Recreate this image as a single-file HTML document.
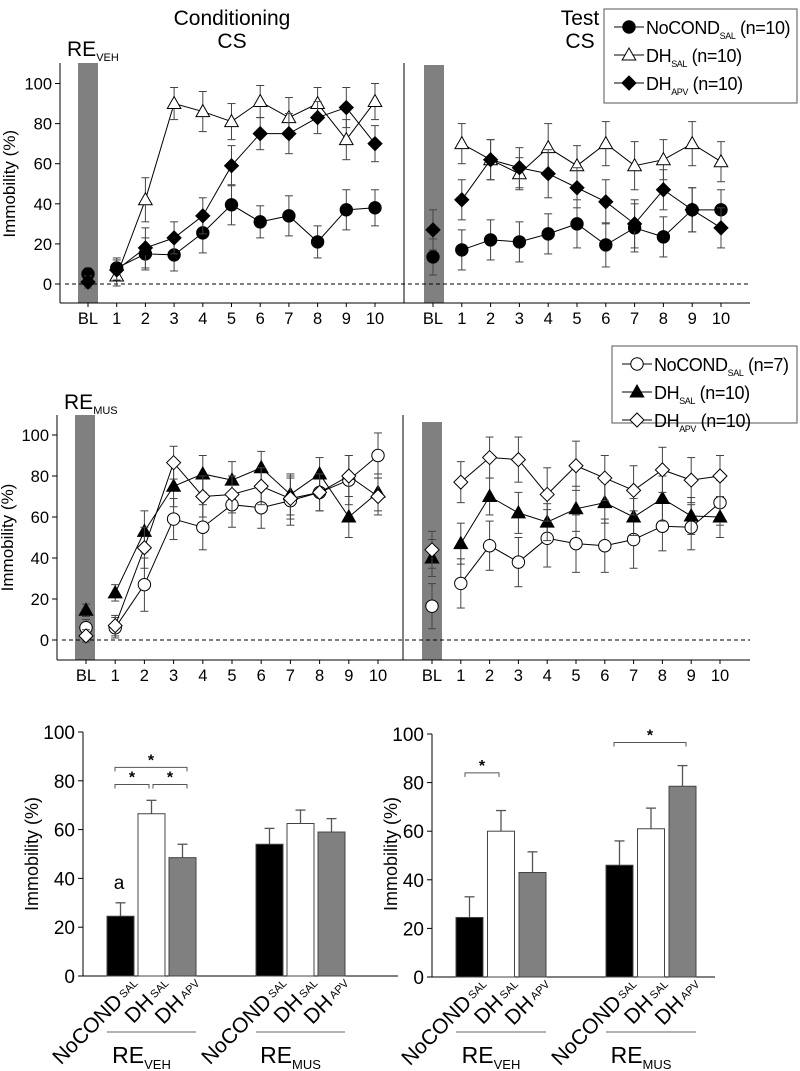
<!DOCTYPE html>
<html><head><meta charset="utf-8">
<style>
html,body{margin:0;padding:0;background:#fff;}
svg{display:block;font-family:"Liberation Sans",Arial,sans-serif;}
</style></head>
<body>
<svg id="fig" width="800" height="1071" viewBox="0 0 800 1071" xmlns="http://www.w3.org/2000/svg">
  <text x="232" y="25" font-size="21" text-anchor="middle">Conditioning</text>
  <text x="232" y="48" font-size="21" text-anchor="middle">CS</text>
  <text x="580" y="25" font-size="21" text-anchor="middle">Test</text>
  <text x="580" y="48" font-size="21" text-anchor="middle">CS</text>
  <text x="67" y="56" font-size="21">RE<tspan font-size="11" dy="5">VEH</tspan></text>
  <text x="64" y="409" font-size="21">RE<tspan font-size="11" dy="5">MUS</tspan></text>
  <g id="layer"></g>
</svg>
<script>
// ---------- Data: top row (RE_VEH) ----------
const xCats = ["BL","1","2","3","4","5","6","7","8","9","10"];
const yTicks = [0,20,40,60,80,100];
const topCondNoCond = [5,8,15,14.5,25.5,39.5,31,34,21,37,38];
const topCondNoCondErr = [3,5,8,8,10,10,8,10,8,10,9];
const topCondDhSal = [null,4,42,90,86,81,91,83,90,72,91];
const topCondDhSalErr = [0,5,11,8,10,9,8,10,8,10,9];
const topCondDhApv = [1,7,18,23,34,59,75,75,83,88,70];
const topCondDhApvErr = [3,5,10,8,9,10,8,10,8,10,9];
const topTestNoCond = [13.5,17,22,21,25,30,19.5,28,23.5,37,37];
const topTestNoCondErr = [9,10,10,10,10,12,11,12,10,11,10];
const topTestDhSal = [null,70,62,55,68,59,70,59,62,70,61];
const topTestDhSalErr = [0,10,10,8,12,10,11,12,10,11,10];
const topTestDhApv = [27,42,62,58,55,48,41,30,47,37,28];
const topTestDhApvErr = [10,10,10,10,12,10,11,12,10,11,10];
// ---------- Data: middle row (RE_MUS) ----------
const midCondNoCond = [6,6,27,59,55,66,64.5,68,72,78,90];
const midCondNoCondErr = [4,5,13,10,11,11,10,12,9,12,11];
const midCondDhSal = [14.5,23,53,75,81,78,84,71,81,60,72];
const midCondDhSalErr = [3,4,10,10,9,9,8,10,8,10,9];
const midCondDhApv = [2,7,45,86.5,70,71,75,69,72,80,70];
const midCondDhApvErr = [3,5,10,8,10,9,9,10,9,10,9];
const midTestNoCond = [16.5,27.6,46,38,49.6,47,46,49,55.5,55,67];
const midTestNoCondErr = [11,12,12,12,14,14,13,14,12,11,11];
const midTestDhSal = [40,47,70,62,57.5,64,67,60,69,60.5,60];
const midTestDhSalErr = [9,10,9,10,9,11,10,9,11,9,10];
const midTestDhApv = [44,77,89,88,71,85,79,73,83,78,80];
const midTestDhApvErr = [9,10,10,11,13,12,11,12,11,11,10];
// ---------- Data: bar charts ----------
const barGroups = ["VEH","MUS"];
const barCondVals = [24.5,66.5,48.5, 54,62.5,59];
const barCondErr = [5.5,5.5,5.5, 6.5,5.5,5.5];
const barTestVals = [24.5,60,43, 46,61,78.5];
const barTestErr = [8.5,8.5,8.5, 10,8.5,8.5];

const NS="http://www.w3.org/2000/svg";
const layer=document.getElementById('layer');
function mk(tag,attrs,parent){const e=document.createElementNS(NS,tag);for(const k in attrs)e.setAttribute(k,attrs[k]);(parent||layer).appendChild(e);return e;}

function linePanel(cfg){
  const yS=v=>cfg.y0-v*cfg.ppu;
  const xS=(side,i)=>side===0?cfg.xl0+i*cfg.stepL:cfg.xr0+i*cfg.stepR;
  let g1=mk('rect',{x:cfg.bl[0],y:cfg.top,width:20,height:cfg.bot-cfg.top,fill:'#808080'});
  
  
  let g2=mk('rect',{x:cfg.bl[1],y:cfg.top2,width:20,height:cfg.bot-cfg.top2,fill:'#808080'});
  
  
  let ya=mk('line',{x1:cfg.ax,y1:cfg.top,x2:cfg.ax,y2:cfg.bot,stroke:'#000','stroke-width':1});
  
  
  let sep=mk('line',{x1:cfg.sepX,y1:cfg.top,x2:cfg.sepX,y2:cfg.bot,stroke:'#000','stroke-width':1});
  
  
  let xa=mk('line',{x1:cfg.ax,y1:cfg.bot,x2:750,y2:cfg.bot,stroke:'#000','stroke-width':1});
  
  
  let dz=mk('line',{x1:cfg.ax+5,y1:yS(0),x2:750,y2:yS(0),stroke:'#000','stroke-width':1,'stroke-dasharray':'4,3'});
  
  
  yTicks.forEach(t=>{
    mk('line',{x1:cfg.ax-5,y1:yS(t),x2:cfg.ax,y2:yS(t),stroke:'#000'});
    let tl=mk('text',{x:cfg.ax-8,y:yS(t)+6,'font-size':16.5,'text-anchor':'end'});
    tl.textContent=t;
    
    
  });
  let yl=mk('text',{x:0,y:0,'font-size':17,'text-anchor':'middle',transform:`translate(${cfg.ylx},${yS(50)}) rotate(-90)`});
  yl.textContent='Immobility (%)';
  
  
  [0,1].forEach(side=>{
    xCats.forEach((c,i)=>{
      const x=xS(side,i);
      mk('line',{x1:x,y1:cfg.bot,x2:x,y2:cfg.bot+4,stroke:'#000'});
      let tl=mk('text',{x:x,y:cfg.bot+21,'font-size':16.5,'text-anchor':'middle'});
      tl.textContent=c;
      
      
    });
  });
  cfg.series.forEach(s=>{
    const x=i=>xS(s.side,i);
    let pts=[];
    for(let i=1;i<s.v.length;i++)if(s.v[i]!=null)pts.push(x(i)+','+yS(s.v[i]));
    let pl=mk('polyline',{points:pts.join(' '),fill:'none',stroke:'#000','stroke-width':1});
    
    
    s.v.forEach((v,i)=>{
      if(v==null)return;
      const e=s.e[i],cx=x(i);
      mk('line',{x1:cx,y1:yS(v+e),x2:cx,y2:yS(v-e),stroke:'#444'});
      mk('line',{x1:cx-4,y1:yS(v+e),x2:cx+4,y2:yS(v+e),stroke:'#444'});
      mk('line',{x1:cx-4,y1:yS(v-e),x2:cx+4,y2:yS(v-e),stroke:'#444'});
    });
    s.v.forEach((v,i)=>{
      if(v==null)return;
      const m=marker(s.shape,s.fill,x(i),yS(v));
      
      
    });
  });
}
function marker(shape,fill,cx,cy,parent){
  const f=fill?'#000':'#fff';
  if(shape==='c')return mk('circle',{cx:cx,cy:cy,r:6.2,fill:f,stroke:'#000'},parent);
  if(shape==='t')return mk('polygon',{points:`${cx},${cy-7} ${cx+6.8},${cy+5} ${cx-6.8},${cy+5}`,fill:f,stroke:'#000'},parent);
  return mk('polygon',{points:`${cx},${cy-7} ${cx+7},${cy} ${cx},${cy+7} ${cx-7},${cy}`,fill:f,stroke:'#000'},parent);
}

linePanel({y0:284,ppu:2.005,top:63,top2:65,bot:303,ax:60,sepX:404,xl0:88,stepL:28.7,xr0:433,stepR:28.8,bl:[78,424],ylx:15,
 series:[
  {name:'cond-nocond-sal',side:0,v:topCondNoCond,e:topCondNoCondErr,shape:'c',fill:true},
  {name:'cond-dh-sal',side:0,v:topCondDhSal,e:topCondDhSalErr,shape:'t',fill:false},
  {name:'cond-dh-apv',side:0,v:topCondDhApv,e:topCondDhApvErr,shape:'d',fill:true},
  {name:'test-nocond-sal',side:1,v:topTestNoCond,e:topTestNoCondErr,shape:'c',fill:true},
  {name:'test-dh-sal',side:1,v:topTestDhSal,e:topTestDhSalErr,shape:'t',fill:false},
  {name:'test-dh-apv',side:1,v:topTestDhApv,e:topTestDhApvErr,shape:'d',fill:true}
 ]});
linePanel({y0:640,ppu:2.05,top:415,top2:422,bot:660,ax:57,sepX:403,xl0:86,stepL:29.2,xr0:432,stepR:28.8,bl:[75,422],ylx:13,
 series:[
  {name:'mus-cond-nocond-sal',side:0,v:midCondNoCond,e:midCondNoCondErr,shape:'c',fill:false},
  {name:'mus-cond-dh-sal',side:0,v:midCondDhSal,e:midCondDhSalErr,shape:'t',fill:true},
  {name:'mus-cond-dh-apv',side:0,v:midCondDhApv,e:midCondDhApvErr,shape:'d',fill:false},
  {name:'mus-test-nocond-sal',side:1,v:midTestNoCond,e:midTestNoCondErr,shape:'c',fill:false},
  {name:'mus-test-dh-sal',side:1,v:midTestDhSal,e:midTestDhSalErr,shape:'t',fill:true},
  {name:'mus-test-dh-apv',side:1,v:midTestDhApv,e:midTestDhApvErr,shape:'d',fill:false}
 ]});

function legend(x,y,w,h,items,name){
  const g=mk('g',{});
  
  
  mk('rect',{x:x,y:y,width:w,height:h,fill:'#fff',stroke:'#555'},g);
  items.forEach((it,k)=>{
    const cy=y+18+k*28;
    mk('line',{x1:x+10,y1:cy,x2:x+40,y2:cy,stroke:'#000'},g);
    marker(it.shape,it.fill,x+25,cy,g);
    const t=mk('text',{x:x+42,y:cy+7,'font-size':18,'letter-spacing':'-0.4'},g);
    t.innerHTML=it.label;
  });
}
legend(604,9,193,94,[
 {shape:'c',fill:true,label:'NoCOND<tspan font-size="9" dy="5">SAL</tspan><tspan dy="-5"> (n=10)</tspan>'},
 {shape:'t',fill:false,label:'DH<tspan font-size="9" dy="5">SAL</tspan><tspan dy="-5"> (n=10)</tspan>'},
 {shape:'d',fill:true,label:'DH<tspan font-size="9" dy="5">APV</tspan><tspan dy="-5"> (n=10)</tspan>'}
],'legend-veh');
legend(612,346,185,77,[
 {shape:'c',fill:false,label:'NoCOND<tspan font-size="9" dy="5">SAL</tspan><tspan dy="-5"> (n=7)</tspan>'},
 {shape:'t',fill:true,label:'DH<tspan font-size="9" dy="5">SAL</tspan><tspan dy="-5"> (n=10)</tspan>'},
 {shape:'d',fill:false,label:'DH<tspan font-size="9" dy="5">APV</tspan><tspan dy="-5"> (n=10)</tspan>'}
],'legend-mus');

function barPanel(cfg){
  const yS=v=>cfg.y0-v*cfg.ppu;
  const fills=['#000','#fff','#808080'];
  const names=['nocond-sal','dh-sal','dh-apv'];
  const subs=['SAL','SAL','APV'];
  const mains=['NoCOND','DH','DH'];
  let ya=mk('line',{x1:cfg.ax,y1:yS(100),x2:cfg.ax,y2:yS(0),stroke:'#000'});
  
  
  let xa=mk('line',{x1:cfg.ax,y1:yS(0),x2:cfg.axEnd,y2:yS(0),stroke:'#000'});
  
  
  yTicks.forEach(t=>{
    mk('line',{x1:cfg.ax-5,y1:yS(t),x2:cfg.ax,y2:yS(t),stroke:'#000'});
    let tl=mk('text',{x:cfg.ax-8,y:yS(t)+7,'font-size':19,'text-anchor':'end'});
    tl.textContent=t;
    
    
  });
  if(cfg.ylx){
    let yl=mk('text',{x:0,y:0,'font-size':18,'text-anchor':'middle',transform:`translate(${cfg.ylx},${yS(50)}) rotate(-90)`});
    yl.textContent='Immobility (%)';
    
    
  }
  barGroups.forEach((gname,gi)=>{
    for(let k=0;k<3;k++){
      const idx=gi*3+k, v=cfg.vals[idx], e=cfg.err[idx];
      const bx=cfg.gx[gi]+k*cfg.step, cx=bx+cfg.bw/2;
      mk('line',{x1:cx,y1:yS(v),x2:cx,y2:yS(v+e),stroke:'#555','stroke-width':1.3});
      mk('line',{x1:cx-5,y1:yS(v+e),x2:cx+5,y2:yS(v+e),stroke:'#555','stroke-width':1.3});
      let b=mk('rect',{x:bx,y:yS(v),width:cfg.bw,height:v*cfg.ppu,fill:fills[k],stroke:'#444','stroke-width':1});
      
      
      let tl=mk('text',{x:0,y:0,'font-size':21,'text-anchor':'end',transform:`translate(${cx+20},${cfg.y0+10}) rotate(-45)`});
      tl.innerHTML=mains[k]+'<tspan font-size="11" dx="3" dy="-3">'+subs[k]+'</tspan>';
      
      
    }
    const x1=cfg.gx[gi], x2=cfg.gx[gi]+2*cfg.step+cfg.bw;
    let gl=mk('line',{x1:x1,y1:1032,x2:x2,y2:1032,stroke:'#666'});
    
    
    let gt=mk('text',{x:(x1+x2)/2-10,y:1063,'font-size':23,'text-anchor':'middle'});
    gt.innerHTML='RE<tspan font-size="13" dy="6">'+gname+'</tspan>';
    
    
  });
  cfg.brackets.forEach(b=>{
    const y=yS(b[2]);
    let p=mk('path',{d:`M${b[0]},${y+4} V${y} H${b[1]} V${y+4}`,fill:'none',stroke:'#555'});
    
    
    let s=mk('text',{x:(b[0]+b[1])/2,y:y-2,'font-size':16,'font-weight':'bold','text-anchor':'middle'});
    s.textContent='*';
    
    
  });
}
barPanel({y0:976,ppu:2.44,ax:83,axEnd:398,gx:[107,256],step:31,bw:27,ylx:38,vals:barCondVals,err:barCondErr,
  brackets:[[115,149,78.5],[153,187,78.5],[115,187,85.5]]});
barPanel({y0:977,ppu:2.43,ax:432,axEnd:715,gx:[456,606],step:31.5,bw:27,ylx:0,vals:barTestVals,err:barTestErr,
  brackets:[[465,499,84],[614,686,96.5]]});
let a=mk('text',{x:119,y:889,'font-size':19,'text-anchor':'middle'});
a.textContent='a';


let yl2=mk('text',{x:0,y:0,'font-size':18,'text-anchor':'middle',transform:'translate(397,854) rotate(-90)'});
yl2.textContent='Immobility (%)';


</script>
</body></html>
